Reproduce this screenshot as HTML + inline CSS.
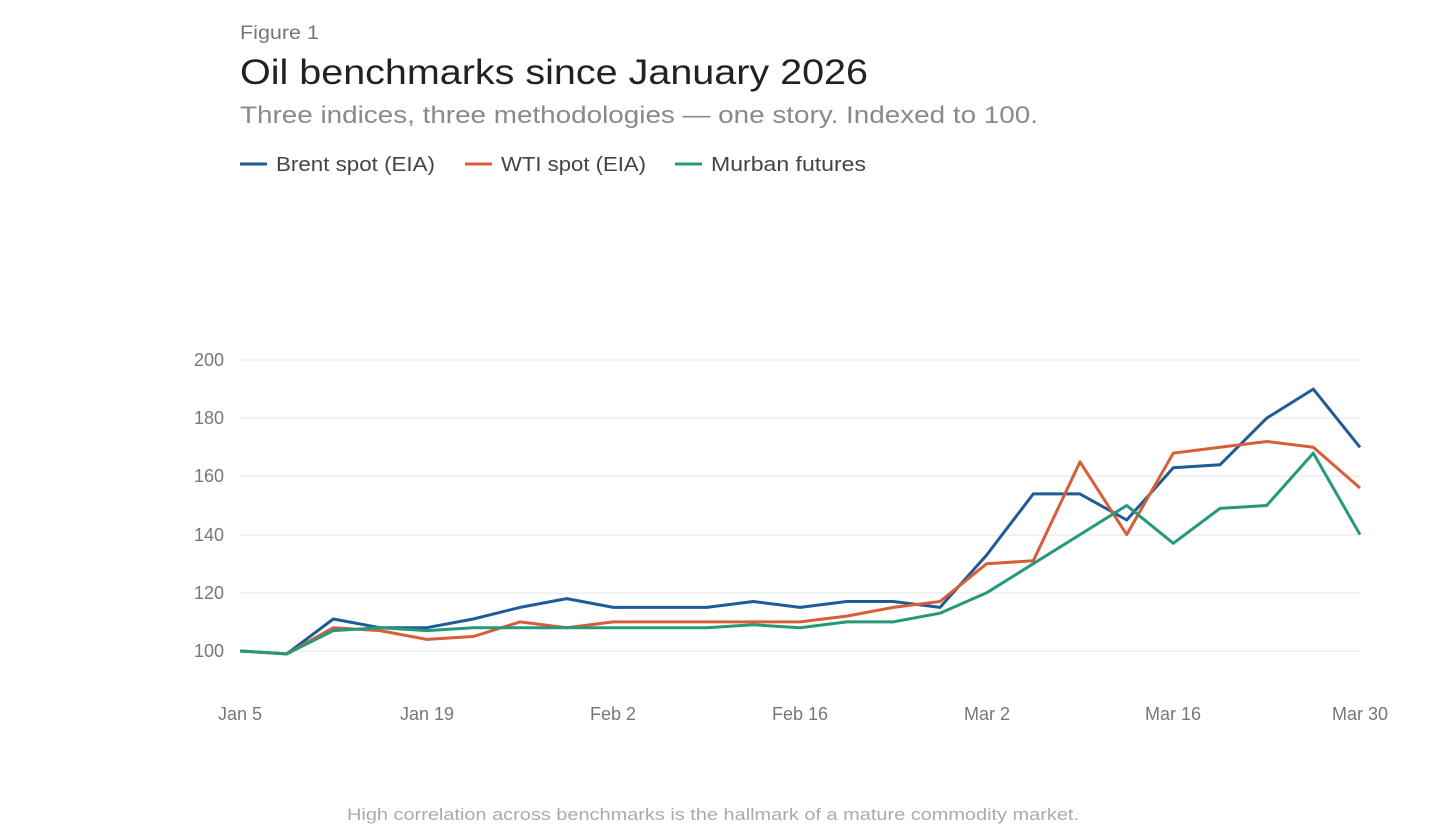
<!DOCTYPE html>
<html><head><meta charset="utf-8"><style>
html,body{margin:0;padding:0;background:#fff;width:1440px;height:840px;overflow:hidden;font-family:"Liberation Sans",sans-serif}
</style></head><body>
<svg width="1440" height="840" xmlns="http://www.w3.org/2000/svg" font-family="Liberation Sans, sans-serif">
<text x="240" y="39" font-size="19" fill="#777" textLength="79" lengthAdjust="spacingAndGlyphs">Figure 1</text>
<text x="240" y="84" font-size="35" fill="#222" textLength="628" lengthAdjust="spacingAndGlyphs">Oil benchmarks since January 2026</text>
<text x="240" y="123" font-size="24" fill="#8a8a8a" textLength="798" lengthAdjust="spacingAndGlyphs">Three indices, three methodologies — one story. Indexed to 100.</text>
<g font-size="20" fill="#444">
<line x1="240" y1="164" x2="267" y2="164" stroke="#1f5b96" stroke-width="3"/><text x="276" y="171" textLength="159" lengthAdjust="spacingAndGlyphs">Brent spot (EIA)</text>
<line x1="465" y1="164" x2="492" y2="164" stroke="#d75e38" stroke-width="3"/><text x="501" y="171" textLength="145" lengthAdjust="spacingAndGlyphs">WTI spot (EIA)</text>
<line x1="675" y1="164" x2="702" y2="164" stroke="#27987a" stroke-width="3"/><text x="711" y="171" textLength="155" lengthAdjust="spacingAndGlyphs">Murban futures</text>
</g>
<g stroke="#e6e6e6" stroke-width="1">
<line x1="240" y1="360" x2="1360" y2="360"/><line x1="240" y1="418" x2="1360" y2="418"/><line x1="240" y1="476" x2="1360" y2="476"/><line x1="240" y1="535" x2="1360" y2="535"/><line x1="240" y1="593" x2="1360" y2="593"/><line x1="240" y1="651" x2="1360" y2="651"/>
</g>
<g font-size="18" fill="#777" text-anchor="end">
<text x="224" y="366">200</text><text x="224" y="424">180</text><text x="224" y="482">160</text><text x="224" y="541">140</text><text x="224" y="599">120</text><text x="224" y="657">100</text>
</g>
<g font-size="18" fill="#777" text-anchor="middle">
<text x="240" y="720">Jan 5</text><text x="427" y="720">Jan 19</text><text x="613" y="720">Feb 2</text><text x="800" y="720">Feb 16</text><text x="987" y="720">Mar 2</text><text x="1173" y="720">Mar 16</text><text x="1360" y="720">Mar 30</text>
</g>
<g id="lines" fill="none" stroke-width="3" stroke-linejoin="round"></g>
<text x="347" y="820" font-size="17" fill="#aaa" textLength="732" lengthAdjust="spacingAndGlyphs">High correlation across benchmarks is the hallmark of a mature commodity market.</text>
<script>
var S=[["#1f5b96",[100,99,111,108,108,111,115,118,115,115,115,117,115,117,117,115,133,154,154,145,163,164,180,190,170]],
["#d75e38",[100,99,108,107,104,105,110,108,110,110,110,110,110,112,115,117,130,131,165,140,168,170,172,170,156]],
["#27987a",[100,99,107,108,107,108,108,108,108,108,108,109,108,110,110,113,120,130,140,150,137,149,150,168,140]]];
var g=document.getElementById("lines");
S.forEach(function(s){var p=s[1].map(function(v,i){return (240+i*1120/24).toFixed(1)+","+(651-(v-100)*2.91).toFixed(1)}).join(" ");
var e=document.createElementNS("http://www.w3.org/2000/svg","polyline");e.setAttribute("points",p);e.setAttribute("stroke",s[0]);g.appendChild(e);});
</script>
</svg>
</body></html>
